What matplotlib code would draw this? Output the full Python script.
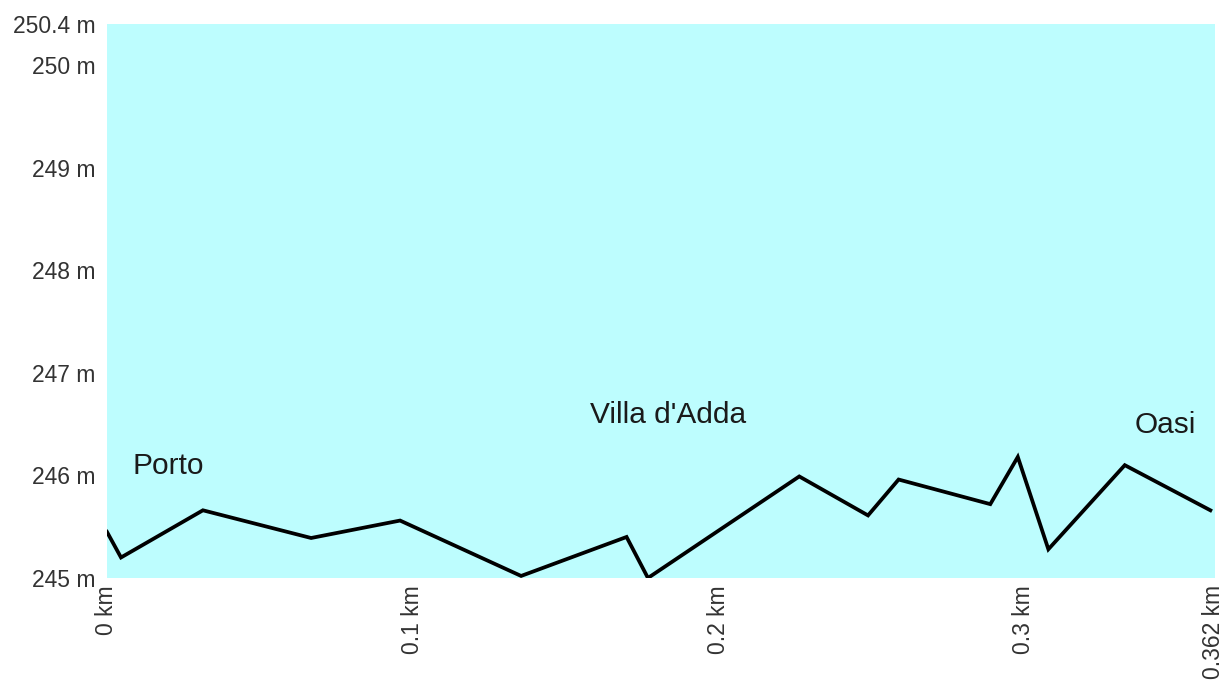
import matplotlib.pyplot as plt

plt.rcParams['font.family'] = ['Liberation Sans', 'DejaVu Sans']

# profile points
dist_km = [0, 0.0046, 0.0314, 0.0668, 0.0959, 0.1355, 0.170, 0.177, 0.2265,
           0.249, 0.259, 0.289, 0.298, 0.308, 0.333, 0.361]
elev_m = [245.45, 245.20, 245.66, 245.39, 245.56, 245.02, 245.40, 245.0, 245.99,
          245.61, 245.96, 245.72, 246.18, 245.28, 246.10, 245.66]

places = ["Porto", "Villa d'Adda", "Oasi"]
place_x = [0.0082, 0.1836, 0.3463]
place_y = [246.09, 246.59, 246.49]

xticks = [0, 0.1, 0.2, 0.3, 0.362]
xlabels = ["0 km", "0.1 km", "0.2 km", "0.3 km", "0.362 km"]
yticks = [245, 246, 247, 248, 249, 250, 250.4]
ylabels = ["245 m", "246 m", "247 m", "248 m", "249 m", "250 m", "250.4 m"]

fig = plt.figure(figsize=(12.25, 6.89), dpi=100)
ax = fig.add_axes([0.0873, 0.1611, 0.9045, 0.804])
ax.set_facecolor('#bdfdfe')
ax.plot(dist_km, elev_m, color='black', lw=2.7, solid_joinstyle='miter')

ax.text(place_x[0], place_y[0], places[0], fontsize=21.5, ha='left', va='center', color='#1a1a1a')
ax.text(place_x[1], place_y[1], places[1], fontsize=21.5, ha='center', va='center', color='#1a1a1a')
ax.text(place_x[2], place_y[2], places[2], fontsize=21.5, ha='center', va='center', color='#1a1a1a')

ax.set_xlim(0, 0.3625)
ax.set_ylim(245, 250.4)
ax.set_xticks(xticks)
ax.set_xticklabels(xlabels, rotation=90, fontsize=16.5, color='#333')
ax.set_yticks(yticks)
ax.set_yticklabels(ylabels, fontsize=16.5, color='#333')
ax.tick_params(axis='y', length=0, pad=8)
ax.tick_params(axis='x', length=0, pad=5)
for s in ax.spines.values():
    s.set_visible(False)

fig.savefig("out.png", dpi=100)
